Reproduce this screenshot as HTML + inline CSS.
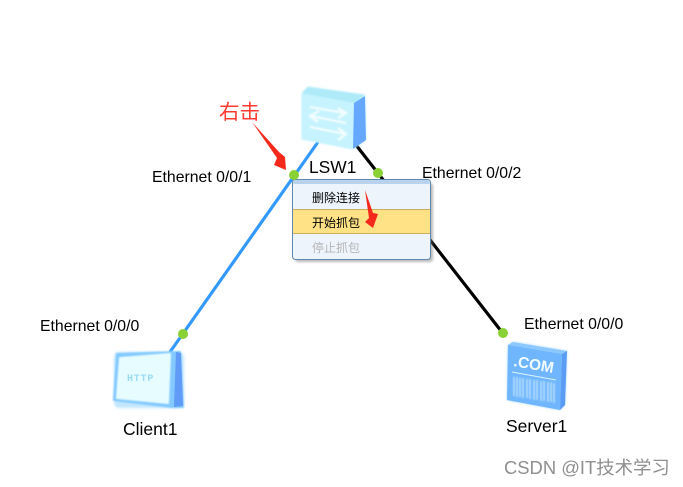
<!DOCTYPE html>
<html>
<head>
<meta charset="utf-8">
<style>
html,body{margin:0;padding:0;background:#fff;width:683px;height:487px;overflow:hidden}
svg{display:block}
text{font-family:"Liberation Sans","WenQuanYi Zen Hei",sans-serif}
</style>
</head>
<body>
<svg width="683" height="487" viewBox="0 0 683 487" xmlns="http://www.w3.org/2000/svg">
<defs>
<filter id="b" x="-20%" y="-20%" width="140%" height="140%"><feGaussianBlur stdDeviation="1.3"/></filter>
<filter id="s" x="-10%" y="-10%" width="120%" height="120%"><feGaussianBlur stdDeviation="0.7"/></filter>
</defs>

<!-- links -->
<line x1="318" y1="142" x2="170" y2="352" stroke="#3399ff" stroke-width="3.2"/>
<line x1="356" y1="145" x2="505" y2="336" stroke="#000" stroke-width="3.2"/>

<!-- switch -->
<g>
<polygon points="302,93 308,87 365,95 366,140 353,149 302,139" fill="#bff1ff" filter="url(#b)"/>
<polygon points="302,93 308,87 365,95 354,103" fill="#aeeaf8" filter="url(#s)"/>
<polygon points="302,94 354,103 353,149 302,139" fill="#c6f3fd" filter="url(#s)"/>
<polygon points="354,103 365,96 366,140 353,149" fill="#66a8ff"/>
<g fill="none" stroke="#f2fdff" stroke-width="2.4" filter="url(#s)">
<path d="M310 107 L345 113 M338 108 L346 113 L338 118"/>
<path d="M346 123 L311 116 M319 111 L310 116 L318 122"/>
<path d="M310 127 L345 134 M338 128 L346 134 L338 140"/>
</g>
</g>

<!-- client -->
<g>
<rect x="114" y="352" width="70" height="56" rx="5" fill="#9ad6ff" filter="url(#b)" opacity=".6"/>
<polygon points="117,354 180,352 183,407 172,407 114,400" fill="#83c9ff" stroke="#83c9ff" stroke-width="2" stroke-linejoin="round" filter="url(#s)"/>
<polygon points="176,352 181,353 183,406 174,407" fill="#5f9bf7"/>
<polygon points="120,358 170,354 168,403 117,398" fill="#e6fcff" stroke="#e6fcff" stroke-width="2" stroke-linejoin="round" filter="url(#s)"/>
<text x="127" y="381" font-size="10" letter-spacing="0.8" fill="#9bdcf2" style="font-family:'Liberation Mono',monospace;font-weight:bold">HTTP</text>
</g>

<!-- server -->
<g>
<polygon points="513,342 567,351 565,405 560,410 507,400 508,345" fill="#a8d8ff" filter="url(#b)"/>
<polygon points="513,342 567,351 562,354 508,345" fill="#8cc8ff"/>
<polygon points="508,345 562,354 560,410 507,400" fill="#70b6ff"/>
<polygon points="562,354 567,351 565,405 560,410" fill="#5b9cf5"/>
<text x="513" y="366" font-size="15.5" font-weight="bold" fill="#f2fbff" transform="rotate(10 513 366)">.COM</text>
<line x1="512" y1="372" x2="556" y2="380" stroke="#d8f2ff" stroke-width="1"/>
<g stroke="#cfeeff" stroke-width="1.1" fill="none" filter="url(#s)">
<path d="M514 377V396M517 377V397M520 378V397M523 378V398M527 379V398M530 379V399M534 380V400M537 380V400M541 381V401M544 381V401M548 382V402M551 382V402M554 383V403"/>
</g>
</g>

<!-- menu -->
<rect x="295" y="183" width="138" height="79" rx="3" fill="#777" opacity=".5" filter="url(#b)"/>
<rect x="292.5" y="179.5" width="138" height="80" rx="3" fill="#edf4fc" stroke="#5f88b0" stroke-width="1"/>
<rect x="293" y="180" width="137" height="4" rx="2" fill="#b9d2ee"/>
<rect x="293" y="209" width="137" height="25" fill="#ffe285"/>
<line x1="293" y1="209.5" x2="430" y2="209.5" stroke="#cdae5e"/>
<line x1="293" y1="233.5" x2="430" y2="233.5" stroke="#cdae5e"/>
<text x="312" y="202" font-size="12" fill="#000">删除连接</text>
<text x="312" y="227" font-size="12" fill="#000">开始抓包</text>
<text x="312" y="252" font-size="12" fill="#b5b5b5">停止抓包</text>

<!-- port dots -->
<circle cx="294" cy="175" r="5" fill="#8ad136"/>
<circle cx="378" cy="173" r="5" fill="#8ad136"/>
<circle cx="183" cy="334" r="5" fill="#8ad136"/>
<circle cx="503" cy="333" r="5" fill="#8ad136"/>

<!-- labels -->
<g font-size="15.8" fill="#000">
<text x="309" y="173" font-size="17.4">LSW1</text>
<text x="152" y="182">Ethernet 0/0/1</text>
<text x="422" y="178">Ethernet 0/0/2</text>
<text x="40" y="331">Ethernet 0/0/0</text>
<text x="524" y="329">Ethernet 0/0/0</text>
<text x="123" y="435" font-size="17.5">Client1</text>
<text x="506" y="432" font-size="17.5">Server1</text>
</g>

<!-- annotations -->
<text x="219" y="119" font-size="20.5" fill="#ff3b30">右击</text>
<polygon points="252,122 279,152 285,157 286,170 274,165 277,158" fill="#f5281c"/>
<polygon points="365,190 373,213 378,214 373,228 365,222 369,218" fill="#f5281c"/>

<!-- watermark -->
<text x="504" y="474" font-size="18.4" fill="#8f8f8f">CSDN @IT技术学习</text>
</svg>
</body>
</html>
